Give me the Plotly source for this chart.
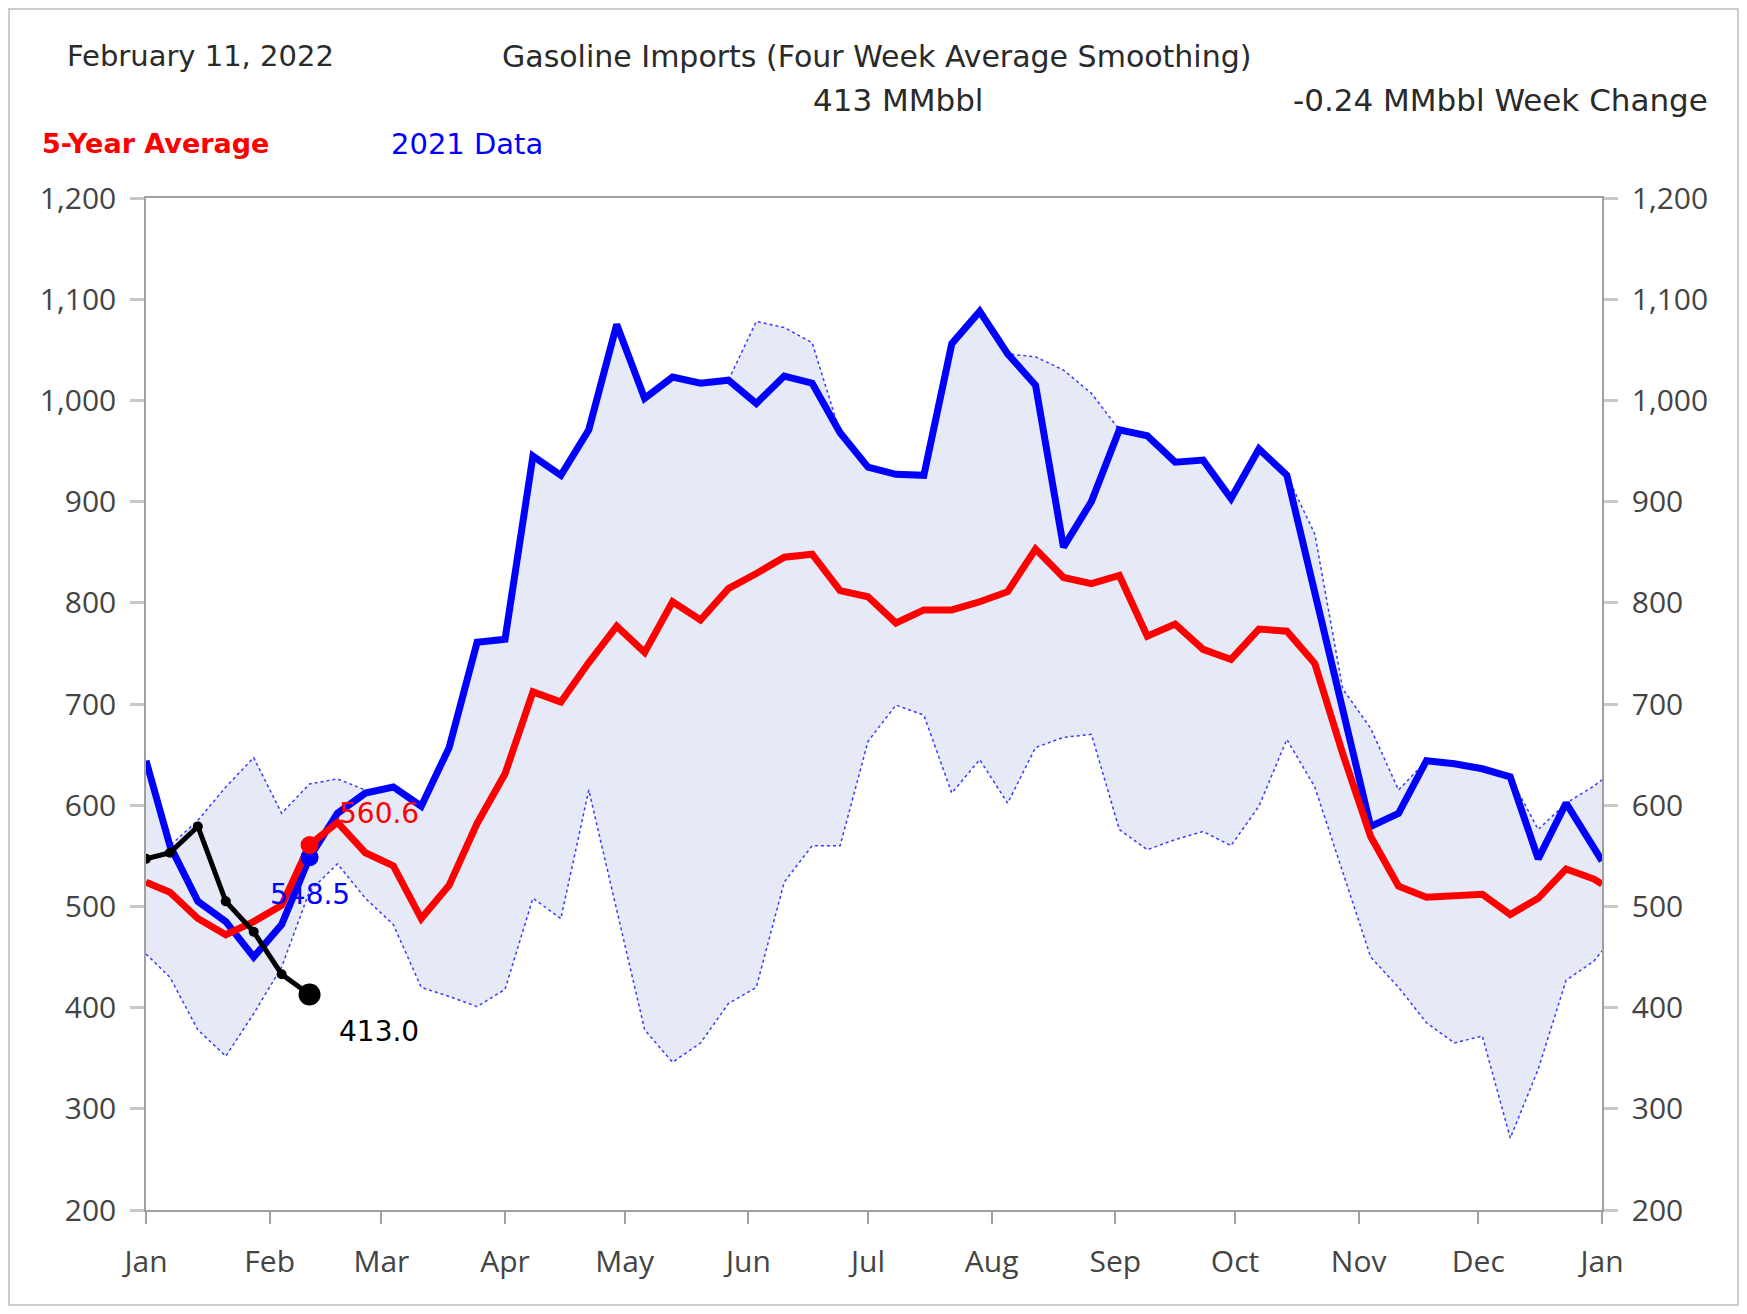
import pandas as pd
import plotly.graph_objects as go

# week positions on the calendar axis (first point at Jan 1, then weekly Fridays, edge point)
weeks = (["2022-01-01"]
         + [d.strftime("%Y-%m-%d") for d in pd.date_range("2022-01-07", periods=52, freq="7D")]
         + ["2023-01-01"])

data_2021 = [644, 560, 505, 485, 450, 482, 548.5, 592, 612, 618, 599, 657, 761, 764,
             945, 926, 971, 1075, 1002, 1023, 1017, 1020, 997, 1024, 1017, 968, 934, 927,
             926, 1056, 1088, 1046, 1015, 855, 900, 971, 965, 939, 941, 903, 952, 926,
             810, 695, 579, 592, 644, 641, 636, 628, 547, 602, 556, 545]

avg_5yr = [524, 514, 488, 472, 485, 501, 560.6, 583, 553, 540, 488, 521, 582, 631,
           712, 702, 741, 777, 751, 801, 783, 814, 829, 845, 848, 812, 806, 780,
           793, 793, 801, 811, 853, 825, 819, 827, 767, 779, 754, 744, 774, 772,
           740, 651, 569, 520, 509, 510, 512, 492, 508, 537, 527, 522]

range_hi = [644, 560, 585, 618, 647, 592, 621, 626, 615, 618, 599, 657, 761, 764,
            945, 926, 971, 1075, 1002, 1023, 1017, 1020, 1078, 1072, 1057, 968, 934, 927,
            926, 1056, 1088, 1046, 1043, 1030, 1007, 971, 965, 939, 941, 903, 952, 926,
            868, 715, 676, 615, 644, 641, 636, 628, 576, 602, 619, 625]

range_lo = [453, 430, 378, 352, 394, 440, 515, 542, 508, 482, 420, 411, 401, 418,
            508, 488, 615, 497, 378, 346, 365, 404, 420, 524, 560, 560, 663, 699,
            689, 612, 645, 602, 657, 667, 670, 576, 556, 566, 574, 560, 599, 665,
            618, 534, 450, 420, 385, 365, 372, 271, 339, 427, 446, 456]

data_2022 = [547, 553, 579, 505, 475, 433, 413.0]
weeks_2022 = weeks[:7]

last_day = weeks[6]
TXT = "DejaVu Sans"
NUM = "Open Sans"

fig = go.Figure()

# 5-year range band
fig.add_trace(go.Scatter(x=weeks, y=range_lo, mode="lines",
                         line=dict(color="#3a3aff", width=1.5, dash="dot")))
fig.add_trace(go.Scatter(x=weeks, y=range_hi, mode="lines", fill="tonexty",
                         fillcolor="#e6e9f6",
                         line=dict(color="#3a3aff", width=1.5, dash="dot")))

fig.add_trace(go.Scatter(x=weeks, y=data_2021, mode="lines",
                         line=dict(color="#0000ff", width=7)))
fig.add_trace(go.Scatter(x=weeks, y=avg_5yr, mode="lines",
                         line=dict(color="#ff0000", width=7)))

# markers at the current week
fig.add_trace(go.Scatter(x=[last_day], y=[data_2021[6]], mode="markers",
                         marker=dict(color="#0000ff", size=18)))
fig.add_trace(go.Scatter(x=[last_day], y=[avg_5yr[6]], mode="markers",
                         marker=dict(color="#ff0000", size=18)))

fig.add_trace(go.Scatter(x=weeks_2022, y=data_2022, mode="lines+markers",
                         line=dict(color="#000000", width=5),
                         marker=dict(color="#000000", size=10)))
fig.add_trace(go.Scatter(x=[weeks_2022[-1]], y=[data_2022[-1]], mode="markers",
                         marker=dict(color="#000000", size=22, opacity=1)))

# invisible trace so the right axis is drawn
fig.add_trace(go.Scatter(x=weeks, y=avg_5yr, yaxis="y2", mode="lines",
                         line=dict(color="rgba(0,0,0,0)"), hoverinfo="skip"))

# value labels
lab = dict(showarrow=False)
fig.add_annotation(x=last_day, y=avg_5yr[6], text=f"{avg_5yr[6]:.1f}",
                   xanchor="left", xshift=27, yshift=32,
                   font=dict(family=TXT, size=28, color="#ff0000"), **lab)
fig.add_annotation(x=last_day, y=data_2021[6], text=f"{data_2021[6]:.1f}",
                   xanchor="center", yshift=-37,
                   font=dict(family=TXT, size=28, color="#0000ff"), **lab)
fig.add_annotation(x=last_day, y=data_2022[-1], text=f"{data_2022[-1]:.1f}",
                   xanchor="left", xshift=27, yshift=-37,
                   font=dict(family=TXT, size=28, color="#000000"), **lab)

# header texts
hdr = dict(xref="paper", yref="paper", showarrow=False, yanchor="middle")
fig.add_annotation(text="February 11, 2022", x=-0.0556, y=1.1403, xanchor="left",
                   font=dict(family=TXT, size=29, color="#2a2a2a"), **hdr)
fig.add_annotation(text="Gasoline Imports (Four Week Average Smoothing)", x=0.5014, y=1.1403,
                   xanchor="center", font=dict(family=TXT, size=30, color="#2a2a2a"), **hdr)
fig.add_annotation(text="413 MMbbl", x=0.5165, y=1.0968, xanchor="center",
                   font=dict(family=TXT, size=31, color="#2a2a2a"), **hdr)
fig.add_annotation(text="-0.24 MMbbl Week Change", x=1.0742, y=1.0968, xanchor="right",
                   font=dict(family=TXT, size=31, color="#2a2a2a"), **hdr)
fig.add_annotation(text="<b>5-Year Average</b>", x=-0.0728, y=1.0534, xanchor="left",
                   font=dict(family=TXT, size=27, color="#ff0000"), **hdr)
fig.add_annotation(text="2021 Data", x=0.1669, y=1.0534, xanchor="left",
                   font=dict(family=TXT, size=29, color="#0000ff"), **hdr)

# outer frame
fig.add_shape(type="rect", xref="paper", yref="paper", x0=-0.0941, x1=1.0934,
              y0=-0.0939, y1=1.1868, line=dict(color="#cccccc", width=2))

yax = dict(range=[200, 1200], dtick=100, tickformat=",", showgrid=False, zeroline=False,
           showline=True, linecolor="#a0a0a0", linewidth=1.5,
           ticks="outside", ticklen=14, tickwidth=3, tickcolor="#c8c8c8",
           ticklabelstandoff=8, tickfont=dict(family=NUM, size=30, color="#444"))

fig.update_layout(
    width=1731, height=1298,
    margin=dict(l=138, r=137, t=190, b=96),
    plot_bgcolor="white", paper_bgcolor="white",
    showlegend=False,
    xaxis=dict(type="date", range=["2022-01-01", "2023-01-01"], tick0="2022-01-01",
               dtick="M1", tickformat="%b", showgrid=False, zeroline=False,
               showline=True, mirror=True, linecolor="#a0a0a0", linewidth=1.5,
               ticks="outside", ticklen=12, tickwidth=1.5, tickcolor="#a0a0a0",
               ticklabelstandoff=12, tickfont=dict(family=NUM, size=30, color="#444")),
    yaxis=yax,
    yaxis2=dict(yax, overlaying="y", side="right"),
)

fig.write_html("out.html")
